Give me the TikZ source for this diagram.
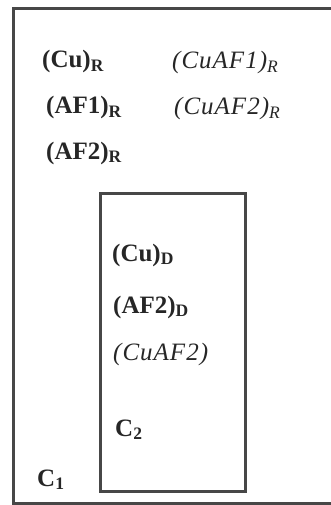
\documentclass[tikz,border=0pt]{standalone}
\usepackage{fontspec}
\setmainfont{Liberation Serif}
\usepackage{tikz}

\begin{document}
\begin{tikzpicture}[x=1pt, y=-1pt, wall/.style={line width=3pt, draw=black!72}, upright/.style={anchor=base west, inner sep=0pt, text=black!85, font=\fontsize{25}{29}\selectfont\bfseries}, slanted/.style={anchor=base west, inner sep=0pt, text=black!85, font=\fontsize{25}{29}\selectfont\itshape\addfontfeature{LetterSpace=4}}]
			\useasboundingbox (0,0) rectangle (331,505);
			\clip (0,0) rectangle (331,505);
			\draw[wall] (13,9) rectangle (345,503);
			\draw[wall] (100,193) rectangle (245,491);
			\node[upright] (cuR) at (42,68) {(Cu)\textsubscript{R}};
			\node[upright] (af1R) at (46,114) {(AF1)\textsubscript{R}};
			\node[upright] (af2R) at (46,159) {(AF2)\textsubscript{R}};
			\node[slanted] (cuaf1R) at (172,69) {(CuAF1)\textsubscript{R}};
			\node[slanted] (cuaf2R) at (174,115) {(CuAF2)\textsubscript{R}};
			\node[upright] (cuD) at (112,261) {(Cu)\textsubscript{D}};
			\node[upright] (af2D) at (113,313) {(AF2)\textsubscript{D}};
			\node[slanted] (cuaf2D) at (113,360) {(CuAF2)};
			\node[upright] (ctwo) at (115,436) {C\textsubscript{2}};
			\node[upright] (cone) at (37,486) {C\textsubscript{1}};
		\end{tikzpicture}
\end{document}
